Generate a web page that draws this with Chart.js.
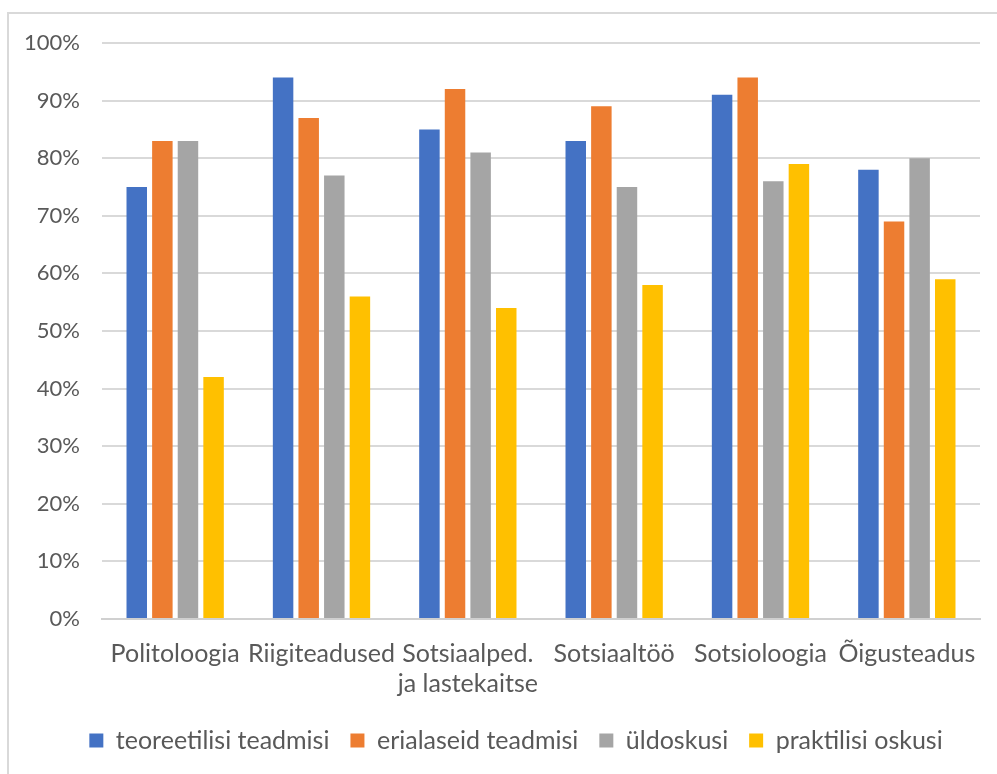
<!DOCTYPE html>
<html lang="et">
<head>
  <meta charset="UTF-8">
  <title>Erialane ettevalmistus</title>
  <script src="https://cdn.jsdelivr.net/npm/chart.js"></script>
  <style>
    body {
      margin: 0;
      background: #ffffff;
      overflow: hidden;
    }
    .frame {
      position: absolute;
      left: 7px;
      top: 12px;
      width: 1100px;
      height: 900px;
      border-left: 2px solid #d9d9d9;
      border-top: 2px solid #d9d9d9;
    }
    .wrap {
      position: absolute;
      left: 0;
      top: 0;
      width: 997px;
      height: 774px;
    }
  </style>
</head>
<body>
  <div class="frame"></div>
  <div class="wrap">
    <canvas id="chart" width="997" height="774"></canvas>
  </div>

  <script>
    const categories = [
      'Politoloogia',
      'Riigiteadused',
      ['Sotsiaalped.', 'ja lastekaitse'],
      'Sotsiaaltöö',
      'Sotsioloogia',
      'Õigusteadus'
    ];
    // percent
    const teoreetilised = [75, 94, 85, 83, 91, 78];
    const erialased = [83, 87, 92, 89, 94, 69];
    const yldoskused = [83, 77, 81, 75, 76, 80];
    const praktilised = [42, 56, 54, 58, 79, 59];

    const seriesNames = ['teoreetilisi teadmisi', 'erialaseid teadmisi', 'üldoskusi', 'praktilisi oskusi'];
    const colors = ['#4472C4', '#ED7D31', '#A5A5A5', '#FFC000'];
    const font = "'Lato', 'Liberation Sans', sans-serif";
    const textColor = '#595959';

    // nudge the legend a bit to the right, like in the original
    const legendShift = {
      id: 'legendShift',
      afterLayout(chart) {
        const lg = chart.legend;
        lg.left += 26;
        lg.right += 26;
        lg.top += 4;
        lg.bottom += 4;
      }
    };

    const ctx = document.getElementById('chart').getContext('2d');
    new Chart(ctx, {
      type: 'bar',
      data: {
        labels: categories,
        datasets: [teoreetilised, erialased, yldoskused, praktilised].map((vals, i) => ({
          label: seriesNames[i],
          data: vals,
          backgroundColor: colors[i],
          borderWidth: 0,
          categoryPercentage: 0.70,
          barPercentage: 0.8
        }))
      },
      options: {
        responsive: false,
        animation: false,
        layout: {
          padding: { top: 43, right: 17, left: 0, bottom: 15 }
        },
        scales: {
          x: {
            grid: { display: false, drawTicks: false },
            border: { color: '#d0d0d0', width: 2 },
            ticks: {
              color: textColor,
              font: { family: font, size: 25, lineHeight: 1.2 },
              padding: 20,
              maxRotation: 0,
              autoSkip: false
            },
            afterFit: (scale) => { scale.height = 84; }
          },
          y: {
            min: 0,
            max: 100,
            grid: { color: '#d9d9d9', lineWidth: 2, drawTicks: false },
            border: { display: false },
            ticks: {
              stepSize: 10,
              color: textColor,
              font: { family: font, size: 22 },
              padding: 22,
              callback: (v) => v + '%'
            },
            afterFit: (scale) => { scale.width = 102; }
          }
        },
        plugins: {
          legend: {
            position: 'bottom',
            labels: {
              color: textColor,
              font: { family: font, size: 25 },
              boxWidth: 14,
              boxHeight: 14,
              padding: 21
            }
          },
          tooltip: { enabled: false }
        }
      },
      plugins: [legendShift]
    });
  </script>
</body>
</html>
